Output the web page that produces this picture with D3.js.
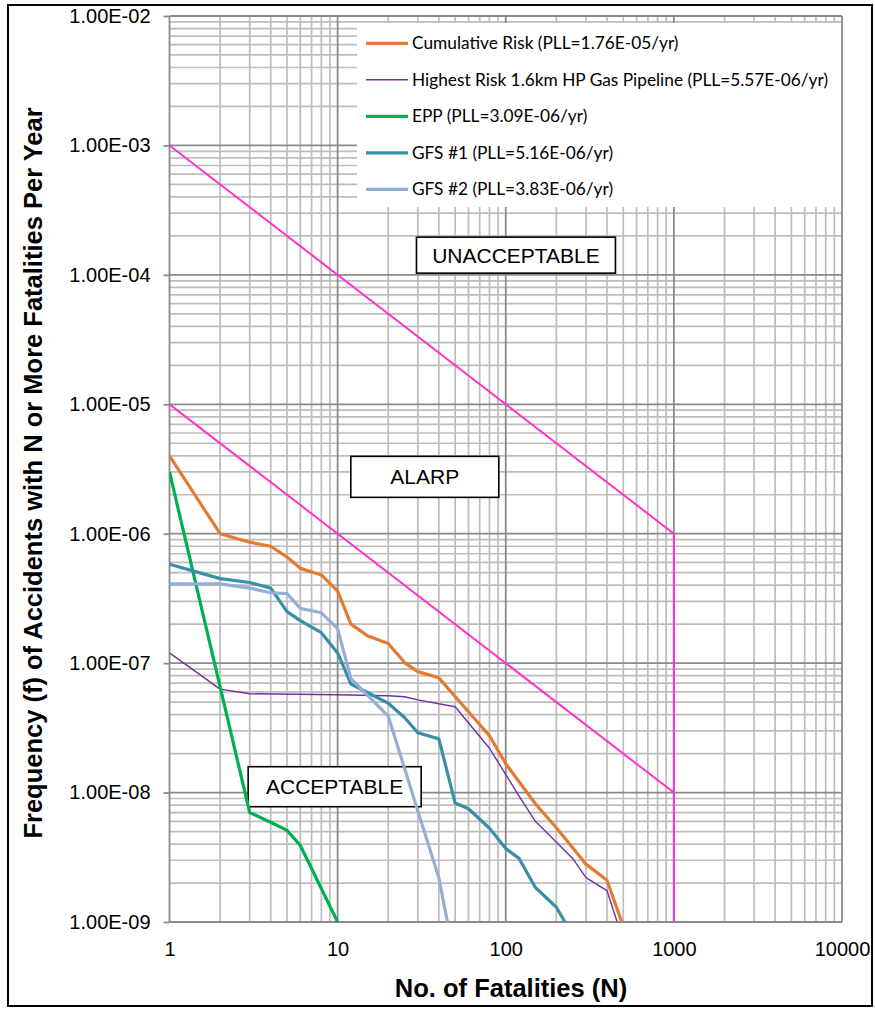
<!DOCTYPE html>
<html>
<head>
<meta charset="utf-8">
<script src="https://cdn.jsdelivr.net/npm/d3@7"></script>
<style>
  html, body { margin: 0; padding: 0; background: #fff; }
  svg { display: block; }
</style>
</head>
<body>
<div id="chart"></div>
<script>
// F-N curve data (N = fatalities, f = frequency per year)
const cumulativeN = [1, 2, 3, 4, 5, 6, 8, 10, 12, 15, 20, 25, 30, 40, 80, 100, 150, 200, 250, 300, 400, 490];
const cumulativeF = [4.0e-6, 1.0e-6, 8.6e-7, 8.0e-7, 6.6e-7, 5.4e-7, 4.8e-7, 3.6e-7, 2.0e-7, 1.63e-7, 1.42e-7, 1.01e-7, 8.6e-8, 7.7e-8, 2.75e-8, 1.67e-8, 8.2e-9, 5.35e-9, 3.75e-9, 2.8e-9, 2.1e-9, 1.0e-9];

const pipelineN = [1, 2, 3, 10, 20, 25, 30, 50, 80, 120, 150, 250, 300, 400, 460];
const pipelineF = [1.2e-7, 6.3e-8, 5.8e-8, 5.7e-8, 5.6e-8, 5.5e-8, 5.2e-8, 4.6e-8, 2.2e-8, 9.4e-9, 6.0e-9, 3.1e-9, 2.2e-9, 1.75e-9, 1.0e-9];

const eppN = [1, 3, 4, 5, 6, 10];
const eppF = [3.0e-6, 7.0e-9, 5.9e-9, 5.1e-9, 3.9e-9, 1.0e-9];

const gfs1N = [1, 2, 3, 4, 5, 6, 8, 10, 12, 20, 25, 30, 40, 50, 60, 80, 100, 120, 150, 200, 225];
const gfs1F = [5.8e-7, 4.5e-7, 4.2e-7, 3.8e-7, 2.5e-7, 2.13e-7, 1.72e-7, 1.2e-7, 6.9e-8, 4.9e-8, 3.8e-8, 2.9e-8, 2.6e-8, 8.3e-9, 7.5e-9, 5.3e-9, 3.7e-9, 3.1e-9, 1.85e-9, 1.3e-9, 1.0e-9];

const gfs2N = [1, 2, 3, 4, 5, 6, 8, 10, 12, 20, 30, 40, 45];
const gfs2F = [4.1e-7, 4.1e-7, 3.8e-7, 3.5e-7, 3.45e-7, 2.65e-7, 2.45e-7, 1.85e-7, 7.6e-8, 3.9e-8, 7.2e-9, 2.2e-9, 1.0e-9];

// criteria lines
const upperN = [1, 1000, 1000];
const upperF = [1e-3, 1e-6, 1e-9];
const lowerN = [1, 1000];
const lowerF = [1e-5, 1e-8];

const seriesNames = [
  "Cumulative Risk (PLL=1.76E-05/yr)",
  "Highest Risk 1.6km HP Gas Pipeline (PLL=5.57E-06/yr)",
  "EPP (PLL=3.09E-06/yr)",
  "GFS #1 (PLL=5.16E-06/yr)",
  "GFS #2 (PLL=3.83E-06/yr)"
];

const xTicks = [1, 10, 100, 1000, 10000];
const yTicks = [1e-9, 1e-8, 1e-7, 1e-6, 1e-5, 1e-4, 1e-3, 1e-2];

// region labels, anchored at (N, f) centres
const zoneLabels = ["UNACCEPTABLE", "ALARP", "ACCEPTABLE"];
const zoneN = [115, 33, 9.6];
const zoneF = [1.42e-4, 2.75e-6, 1.11e-8];

const width = 875, height = 1010;
const marginTop = 16, marginRight = 33, marginBottom = 88, marginLeft = 169.5;
const zoneBoxW = [199, 148, 173], zoneBoxH = [36, 41, 40];

const series = [
  {name: seriesNames[0], N: cumulativeN, F: cumulativeF, color: "#e27b32", w: 3.2},
  {name: seriesNames[1], N: pipelineN, F: pipelineF, color: "#7030a0", w: 1.4},
  {name: seriesNames[2], N: eppN, F: eppF, color: "#00b050", w: 3.2},
  {name: seriesNames[3], N: gfs1N, F: gfs1F, color: "#3890a6", w: 3.2},
  {name: seriesNames[4], N: gfs2N, F: gfs2F, color: "#94afd6", w: 3.2}
];

const x = d3.scaleLog([1, 10000], [marginLeft, width - marginRight]);
const y = d3.scaleLog([1e-9, 1e-2], [height - marginBottom, marginTop]);

const svg = d3.select("#chart").append("svg")
    .attr("width", width)
    .attr("height", height)
    .attr("viewBox", [0, 0, width, height]);

// outer frame
svg.append("rect")
    .attr("x", 8).attr("y", 5)
    .attr("width", 864).attr("height", 1001)
    .attr("fill", "none")
    .attr("stroke", "#000")
    .attr("stroke-width", 2);

// minor + major grid
const xMinor = x.ticks().filter(d => !xTicks.includes(d));
const yMinor = y.ticks().filter(d => !yTicks.some(t => Math.abs(t - d) / d < 1e-6));

const grid = svg.append("g");
grid.selectAll(".xminor").data(xMinor).join("line")
    .attr("x1", d => x(d)).attr("x2", d => x(d))
    .attr("y1", y.range()[1]).attr("y2", y.range()[0])
    .attr("stroke", "#bdbdbd").attr("stroke-width", 1.7);
grid.selectAll(".yminor").data(yMinor).join("line")
    .attr("x1", x.range()[0]).attr("x2", x.range()[1])
    .attr("y1", d => y(d)).attr("y2", d => y(d))
    .attr("stroke", "#bdbdbd").attr("stroke-width", 1.7);
grid.selectAll(".xmajor").data(xTicks).join("line")
    .attr("x1", d => x(d)).attr("x2", d => x(d))
    .attr("y1", y.range()[1]).attr("y2", y.range()[0])
    .attr("stroke", "#8a8a8a").attr("stroke-width", 1.8);
grid.selectAll(".ymajor").data(yTicks).join("line")
    .attr("x1", x.range()[0]).attr("x2", x.range()[1])
    .attr("y1", d => y(d)).attr("y2", d => y(d))
    .attr("stroke", "#8a8a8a").attr("stroke-width", 1.8);

// axes
const fmtE = d => "1.00E-" + String(Math.round(-Math.log10(d))).padStart(2, "0");

svg.append("g")
    .attr("transform", `translate(${marginLeft},0)`)
    .call(d3.axisLeft(y).tickValues(yTicks).tickFormat(fmtE).tickSize(6).tickPadding(13))
    .call(g => g.select(".domain").remove())
    .call(g => g.selectAll("line").attr("stroke", "#8a8a8a").attr("stroke-width", 1.8))
    .call(g => g.selectAll("text")
        .attr("fill", "#000")
        .style("font", "20px 'Liberation Sans', Arial, sans-serif"));

svg.append("g")
    .attr("transform", `translate(0,${height - marginBottom})`)
    .call(d3.axisBottom(x).tickValues(xTicks).tickFormat(d3.format("d")).tickSize(0).tickPadding(20))
    .call(g => g.select(".domain").remove())
    .call(g => g.selectAll("text")
        .attr("fill", "#000")
        .style("font", "20px 'Liberation Sans', Arial, sans-serif"));

// axis titles
svg.append("text")
    .attr("x", 511).attr("y", 997)
    .attr("text-anchor", "middle")
    .style("font", "bold 25.5px 'Liberation Sans', Arial, sans-serif")
    .text("No. of Fatalities (N)");

svg.append("text")
    .attr("transform", "translate(42,473) rotate(-90)")
    .attr("text-anchor", "middle")
    .style("font", "bold 25.5px 'Liberation Sans', Arial, sans-serif")
    .text("Frequency (f) of Accidents with N or More Fatalities Per Year");

// legend (white box over the grid)
const legend = svg.append("g");
legend.append("rect")
    .attr("x", 357).attr("y", 23)
    .attr("width", 484).attr("height", 184)
    .attr("fill", "#fff");

const item = legend.selectAll("g").data(series).join("g")
    .attr("transform", (d, i) => `translate(366,${43.3 + i * 36.5})`);
item.append("line")
    .attr("x1", 0).attr("x2", 42)
    .attr("stroke", d => d.color)
    .attr("stroke-width", d => d.w);
item.append("text")
    .attr("x", 46).attr("dy", "0.35em")
    .style("font", "17.3px Lato, 'Open Sans', sans-serif")
    .attr("fill", "#000")
    .text(d => d.name);

// plot clip
svg.append("clipPath").attr("id", "plot")
  .append("rect")
    .attr("x", x.range()[0]).attr("y", y.range()[1])
    .attr("width", x.range()[1] - x.range()[0])
    .attr("height", y.range()[0] - y.range()[1]);

const line = d3.line().x(d => x(d[0])).y(d => y(d[1]));

// criteria lines
const crit = svg.append("g").attr("clip-path", "url(#plot)");
[[upperN, upperF], [lowerN, lowerF]].forEach(([N, F]) => {
  crit.append("path")
      .attr("d", line(d3.zip(N, F)))
      .attr("fill", "none")
      .attr("stroke", "#ff33cc")
      .attr("stroke-width", 2);
});

// zone labels
const zone = svg.append("g").selectAll("g").data(zoneLabels).join("g")
    .attr("transform", (d, i) => `translate(${x(zoneN[i])},${y(zoneF[i])})`);
zone.append("rect")
    .attr("x", (d, i) => -zoneBoxW[i] / 2)
    .attr("y", (d, i) => -zoneBoxH[i] / 2)
    .attr("width", (d, i) => zoneBoxW[i])
    .attr("height", (d, i) => zoneBoxH[i])
    .attr("fill", "#fff")
    .attr("stroke", "#000")
    .attr("stroke-width", 1.6);
zone.append("text")
    .attr("text-anchor", "middle")
    .attr("dy", "0.36em")
    .style("font", "21px 'Liberation Sans', Arial, sans-serif")
    .text(d => d);

// F-N curves
svg.append("g")
    .attr("clip-path", "url(#plot)")
  .selectAll("path")
  .data(series)
  .join("path")
    .attr("d", d => line(d3.zip(d.N, d.F)))
    .attr("fill", "none")
    .attr("stroke", d => d.color)
    .attr("stroke-width", d => d.w)
    .attr("stroke-linejoin", "round");
</script>
</body>
</html>
